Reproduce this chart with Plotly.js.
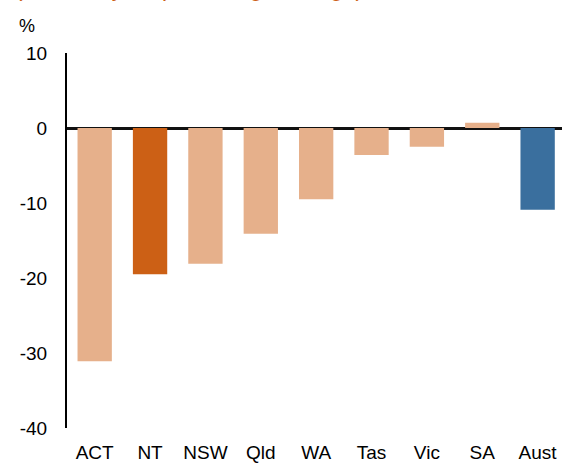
<!DOCTYPE html>
<html>
<head>
<meta charset="utf-8">
<script src="https://cdn.plot.ly/plotly-3.0.1.min.js"></script>
<style>html,body{margin:0;padding:0;background:#fff;}#chart{width:562px;height:464px;}</style>
</head>
<body>
<div id="chart"></div>
<script>
const categories = ["ACT", "NT", "NSW", "Qld", "WA", "Tas", "Vic", "SA", "Aust"];
const values = [-31.1, -19.5, -18.1, -14.1, -9.5, -3.6, -2.5, 0.7, -10.9];
const barColors = ["#E6B08B", "#CC6015", "#E6B08B", "#E6B08B", "#E6B08B", "#E6B08B", "#E6B08B", "#E6B08B", "#3A6F9E"];
const yTicks = [10, 0, -10, -20, -30, -40];
const yUnit = "%";
const titleText = "(financial year percentage change)";

const trace = {
  type: "bar",
  x: categories,
  y: values,
  marker: {color: barColors, line: {width: 0}},
  width: 0.62,
  hoverinfo: "x+y"
};

const layout = {
  width: 562,
  height: 464,
  margin: {l: 67, r: 0, t: 53, b: 36, pad: 0},
  paper_bgcolor: "#ffffff",
  plot_bgcolor: "#ffffff",
  showlegend: false,
  font: {family: "Liberation Sans, Arial, sans-serif", size: 19, color: "#000000"},
  xaxis: {
    type: "category",
    range: [-0.5, 8.44],
    showgrid: false,
    showline: false,
    zeroline: false,
    ticks: "",
    ticklabelstandoff: 11,
    tickfont: {size: 19, color: "#000"},
    fixedrange: true
  },
  yaxis: {
    range: [-40, 10],
    tickvals: yTicks,
    ticktext: yTicks.map(String),
    showgrid: false,
    showline: true,
    linecolor: "#000000",
    linewidth: 2,
    zeroline: true,
    zerolinecolor: "#111111",
    zerolinewidth: 3,
    ticks: "",
    ticklabelstandoff: 14,
    tickfont: {size: 19, color: "#000"},
    fixedrange: true
  },
  annotations: [
    {
      text: yUnit, xref: "paper", yref: "paper", x: -0.08, y: 1.041,
      xanchor: "center", yanchor: "bottom", showarrow: false,
      font: {size: 18, color: "#000"}
    },
    {
      text: titleText, xref: "paper", yref: "paper", x: -0.11, y: 1.134,
      xanchor: "left", yanchor: "bottom", showarrow: false,
      font: {size: 22.6, color: "#CC6015"}
    }
  ]
};

Plotly.newPlot("chart", [trace], layout, {displayModeBar: false, staticPlot: true});
</script>
</body>
</html>
